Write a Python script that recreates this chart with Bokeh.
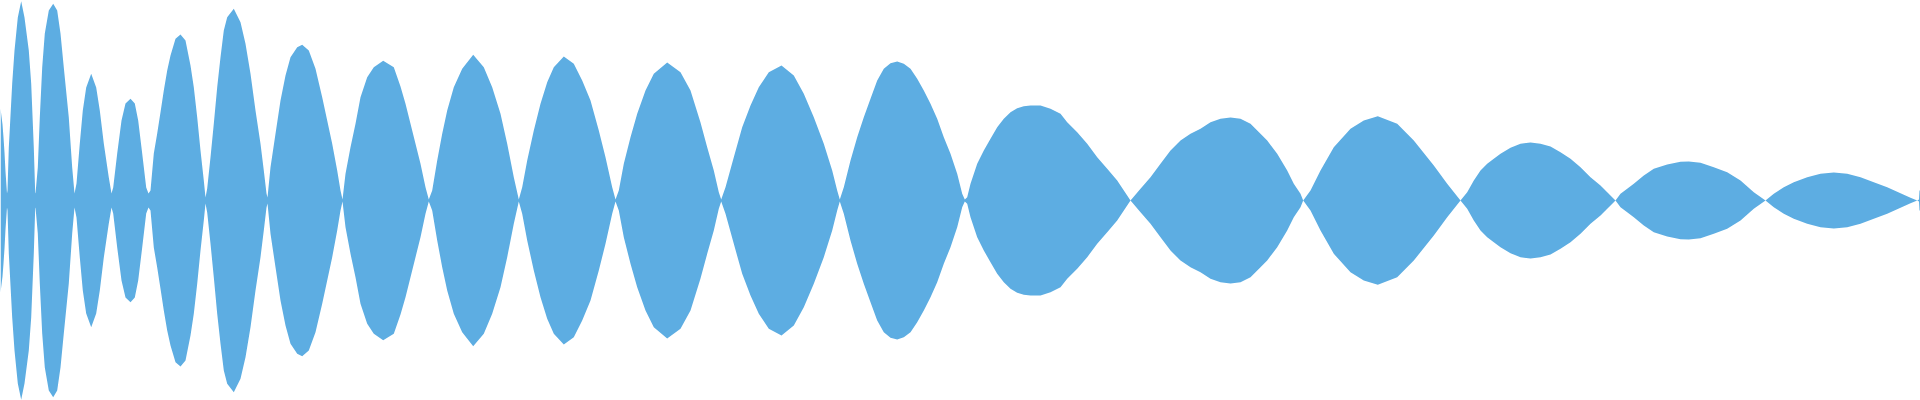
from bokeh.plotting import figure
from bokeh.embed import file_html
from bokeh.resources import INLINE
from bokeh.models import Range1d, ColumnDataSource

# Envelope of the waveform (sample position, peak amplitude); the fill is mirrored around 0
env_x = [
    0, 2, 3, 4, 5, 6.5,
    7, 8.3, 10, 11.7, 14, 17.3, 20.7, 24, 28.3, 30.7, 33.3, 34.7, 35,
    37.3, 39.3, 41.7, 44.3, 48.3, 52.7, 56.7, 60, 63.3, 68.3, 71.7, 74,
    76, 79.3, 82.3, 85.7, 90.7, 95.7, 99.3, 103.3, 108.3, 111,
    112.7, 116.7, 121, 125, 130, 134.3, 137.7, 141.7, 145.7, 148,
    150, 153.3, 156.7, 160, 163.3, 166.7, 170, 175, 180, 185, 190, 193.3, 196.7, 200, 203.3, 205,
    206.7, 210, 213.3, 216.7, 220, 223.3, 226.7, 233.3, 240, 245, 250, 255, 260, 263.3, 266, 267,
    270, 275, 280, 285, 290, 296.7, 301.7, 308.3, 315, 321.7, 326.7, 331.7, 336.7, 340, 342,
    345, 350, 355, 360, 366.7, 373.3, 382.7, 393.3, 400, 405, 410, 415, 420, 425, 428.3,
    431.7, 436.7, 441.7, 446.7, 453.3, 461.7, 472.7, 483.3, 491.7, 500, 506.7, 513.3, 518.3,
    521.7, 526.7, 533.3, 540, 546.7, 553.3, 563.3, 573.3, 581.7, 590, 598.3, 605, 611.7, 615,
    618.3, 623.3, 630, 636.7, 645, 653.3, 666.7, 680, 690, 700, 706.7, 713.3, 718.3, 720.7,
    725, 733.3, 741.7, 750, 758.3, 768.3, 781, 793.3, 803.3, 813.3, 823.3, 831.7, 836.7, 839.3,
    843.3, 850, 856.7, 863.3, 870, 876.7, 883.3, 890, 896.7, 903.3, 910, 916.7, 923.3, 930,
    936.7, 943.3, 950, 956.7, 961.7, 964.3,
    966.7, 970, 976.7, 983.3, 990, 996.7, 1003.3, 1010, 1016.7, 1023.3, 1030, 1040, 1050, 1060,
    1066.7, 1076.7, 1086.7, 1096.7, 1106.7, 1116.7, 1130,
    1140, 1150, 1160, 1170, 1180, 1190, 1200, 1210, 1220, 1230, 1240, 1250, 1260, 1266.7,
    1276.7, 1286.7, 1293.3, 1300, 1302.7,
    1310, 1320, 1333.3, 1350, 1363.3, 1377.3, 1396.7, 1413.3, 1433.3, 1446.7, 1460,
    1466.7, 1473.3, 1480, 1486.7, 1493.3, 1500, 1510, 1520, 1530, 1540, 1550, 1560, 1570,
    1580, 1590, 1600, 1607.5, 1615,
    1620, 1626.7, 1633.3, 1643.3, 1653.3, 1666.7, 1680, 1688.3, 1700, 1713.3, 1726.7, 1740,
    1753.3, 1765,
    1773.3, 1783.3, 1793.3, 1806.7, 1820, 1833.3, 1846.7, 1860, 1873.3, 1886.7, 1900, 1910,
    1916.7, 1918.5, 1919, 1920,
]
env_amp = [
    92, 76, 63, 48, 29, 7,
    10, 53, 85, 117, 150, 183, 199.3, 183, 150, 117, 53, 8, 7,
    33, 83, 133, 167, 190, 196.7, 190, 167, 133, 83, 33, 7,
    17, 57, 90, 113, 126.7, 113, 90, 57, 23, 7,
    13, 47, 80, 97, 101.7, 97, 80, 47, 13, 7,
    10, 47, 67, 88.3, 110, 130, 145, 161.7, 166, 160, 135, 113.3, 83.3, 50, 20, 3,
    12, 43.3, 76.7, 113.3, 143.3, 170, 183.3, 191.7, 178.3, 156.7, 126.7, 90, 56.7, 30, 7, 3,
    33.3, 66.7, 100, 125, 143.3, 153.3, 155.7, 150, 131.7, 103.3, 80, 56.7, 30, 10, 1,
    26.7, 53.3, 76.7, 103.3, 123.3, 133.3, 139.7, 133.3, 114, 96.7, 76.7, 56.7, 36.7, 13.3, 1,
    10, 40, 66.7, 90, 113.3, 131.7, 145.7, 133.3, 113.3, 86.7, 56.7, 23.3, 1,
    13.3, 40, 70, 96.7, 118.3, 133.3, 144, 136.7, 120, 100, 70, 43.3, 13.3, 1,
    10, 36.7, 63.3, 86.7, 110, 126.7, 138, 128.3, 110, 78, 53.3, 30, 8.3, 1,
    13.3, 43.3, 73.3, 95, 113.3, 128.3, 135, 125, 106.7, 83.3, 56.7, 30, 10, 1,
    13.3, 40, 63.3, 83.3, 101.7, 120, 131.7, 137.3, 139, 136.7, 131.7, 121.7, 110, 96.7,
    81.7, 63.3, 46.7, 26.7, 6.7, 1,
    3.3, 16.7, 36.7, 50, 61.7, 73.3, 81.7, 88.3, 92.3, 94.3, 95, 95, 91.7, 86.7,
    78.3, 68.3, 56.7, 43.3, 31.7, 20, 0,
    11.7, 23.3, 36.7, 50, 60, 66.7, 71.7, 78.3, 81.7, 83, 81.7, 76.7, 66.7, 60,
    46.7, 30, 16.7, 6.7, 0,
    10, 30, 53.3, 71.7, 80, 84.3, 76.7, 60, 35, 16.7, 0,
    8.3, 20, 30, 36.7, 41.7, 46.7, 52.7, 56.7, 58, 56.7, 54, 48.3, 41.7,
    33.3, 23.3, 15, 7.5, 0,
    6.7, 11.7, 16.7, 25, 31.7, 36, 38.7, 38.9, 37.7, 33.3, 28.3, 20,
    8.3, 0,
    6.7, 13.3, 18.3, 23.3, 26.7, 28, 26.7, 23.3, 18.3, 13.3, 7.3, 2.7,
    0, 1, 10, 10,
]

lower = [-a for a in env_amp]
src = ColumnDataSource(data=dict(x=env_x, top=env_amp, bottom=lower))

p = figure(width=1920, height=400, output_backend="svg", toolbar_location=None,
           x_range=Range1d(0, 1920), y_range=Range1d(-200, 200),
           min_border=0, min_border_left=0, min_border_right=0,
           min_border_top=0, min_border_bottom=0)
p.varea(x="x", y1="bottom", y2="top", source=src, fill_color="#5DADE2", fill_alpha=1.0)
p.axis.visible = False
p.grid.visible = False
p.outline_line_color = None
p.background_fill_color = "white"
p.border_fill_color = "white"

html = file_html(p, INLINE)
html = html.replace("</head>", "<style>html,body{margin:0;padding:0;overflow:hidden;}</style></head>", 1)
open("out.html", "w").write(html)
